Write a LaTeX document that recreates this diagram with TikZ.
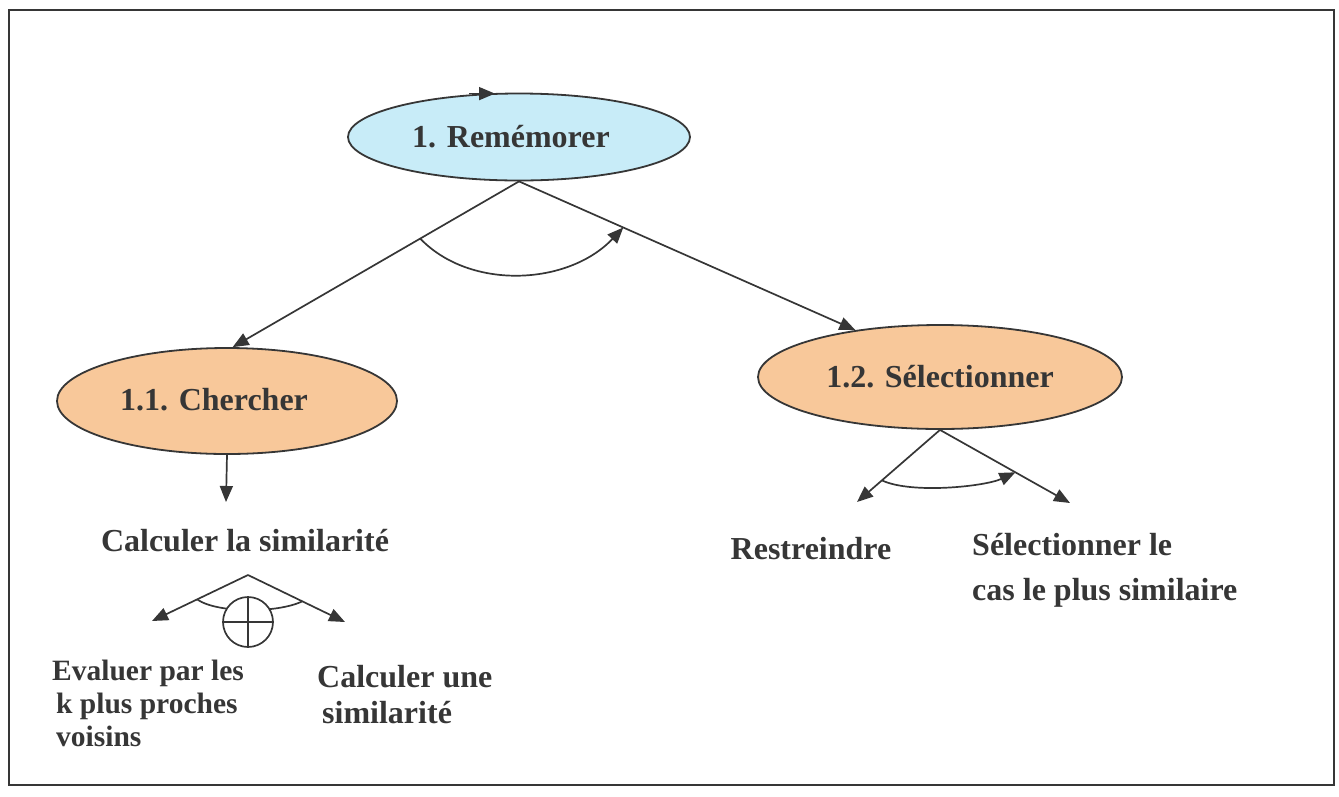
\documentclass[tikz,border=0pt]{standalone}
\usepackage{fontspec}
\setmainfont{Liberation Serif}
\usetikzlibrary{arrows.meta,shapes.geometric}
\definecolor{ink}{HTML}{363636}
\definecolor{blueF}{HTML}{C8ECF8}
\definecolor{orangeF}{HTML}{F8C89A}
\begin{document}
\begin{tikzpicture}[x=1pt,y=-1pt,
  txt/.style={font=\bfseries\fontsize{32}{33}\selectfont, text=ink, inner sep=0pt},
  ell/.style={ellipse, draw=ink, line width=1.8pt, inner sep=0pt},
  conn/.style={draw=ink, line width=1.7pt},
  arr/.style={conn, -{Triangle[length=16pt,width=13pt]}},
  lbl/.style={txt, align=left}]
\useasboundingbox (0,0) rectangle (1339,796);
\draw[ink, line width=2pt] (9,10) rectangle (1334,785);

% main ellipses
\node[ell, fill=blueF, minimum width=342pt, minimum height=87pt] (rem) at (519,137) {};
\node[txt] (remt) at (511,137) {1. Remémorer};
\node[ell, fill=orangeF, minimum width=340pt, minimum height=106pt] (chr) at (227,401) {};
\node[txt] (chrt) at (214,400) {1.1. Chercher};
\node[ell, fill=orangeF, minimum width=364pt, minimum height=104pt] (sel) at (940,377) {};
\node[txt] (selt) at (940,377) {1.2. Sélectionner};

% small arrow on top of the first ellipse
\draw[arr] ([xshift=-50pt,yshift=-1pt]rem.north) -- ([xshift=-24pt,yshift=-1pt]rem.north);

% decomposition of 1
\draw[arr] (rem.south) -- (chr.84);
\draw[arr] (rem.south) -- (sel.151);
\path (rem.south) -- (chr.84) coordinate[pos=0.345] (a1);
\path (rem.south) -- (sel.151) coordinate[pos=0.31] (a2);
\draw[arr] (a1) .. controls ([xshift=50pt,yshift=-52pt]a1) and ([xshift=-55pt,yshift=-58pt]a2) .. (a2);

% branch 1.1
\coordinate (c1) at (226,502);
\draw[arr] (chr.south) -- (c1);
\node[txt] (cal) at (245,541) {Calculer la similarité};
\coordinate (ap1) at (248,575);
\coordinate (l1) at (152,621);
\coordinate (r1) at (345,622);
\draw[arr] (ap1) -- (l1);
\draw[arr] (ap1) -- (r1);
\path (ap1) -- (l1) coordinate[pos=0.53] (b1);
\path (ap1) -- (r1) coordinate[pos=0.56] (b2);
\draw[conn] (b1) .. controls ([xshift=20pt,yshift=-14pt]b1) and ([xshift=-25pt,yshift=-12pt]b2) .. (b2);
\node[circle, draw=ink, line width=1.7pt, fill=white, minimum size=50pt, inner sep=0pt] (xr) at (248,622) {};
\draw[conn] (xr.north) -- (xr.south);
\draw[conn] (xr.west) -- (xr.east);
\node[lbl, anchor=north west, font=\bfseries\fontsize{29.5}{33}\selectfont] (ev) at (52,660) {Evaluer par les\\\hspace{4pt}k plus proches\\\hspace{4pt}voisins};
\node[lbl, anchor=north west, font=\bfseries\fontsize{32}{36}\selectfont] (cu) at (317,665) {Calculer une\\\hspace{5pt}similarité};

% branch 1.2
\coordinate (l2) at (857,502);
\coordinate (r2) at (1070,503);
\draw[arr] (sel.south) -- (l2);
\draw[arr] (sel.south) -- (r2);
\path (sel.south) -- (l2) coordinate[pos=0.7] (d1);
\path (sel.south) -- (r2) coordinate[pos=0.58] (d2);
\draw[arr] (d1) .. controls ([xshift=30pt,yshift=-14pt]d1) and ([xshift=-30pt,yshift=-14pt]d2) .. (d2);
\node[txt] (res) at (811,549) {Restreindre};
\node[lbl, anchor=north west, font=\bfseries\fontsize{32}{45}\selectfont] (slc) at (972,533) {Sélectionner le\\cas le plus similaire};
\end{tikzpicture}
\end{document}
